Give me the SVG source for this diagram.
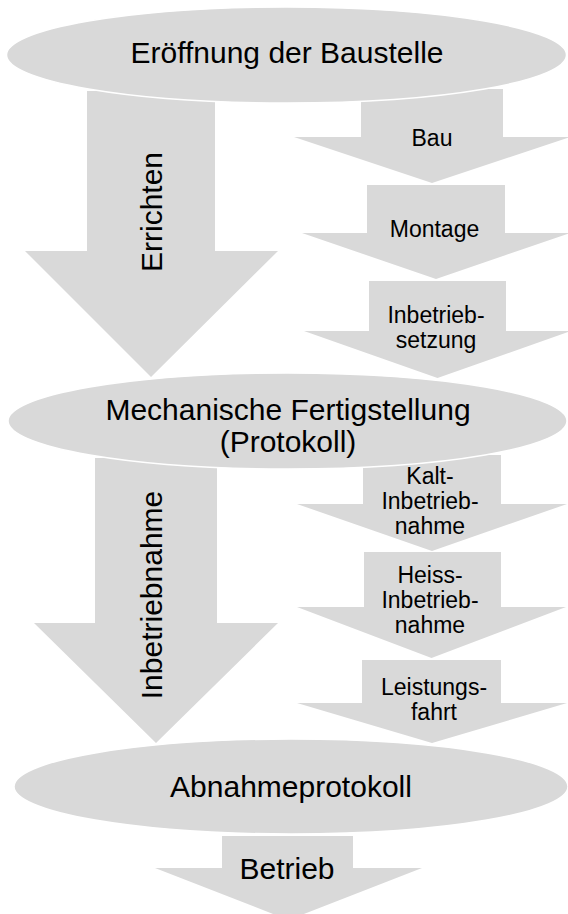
<svg xmlns="http://www.w3.org/2000/svg" width="568" height="914" viewBox="0 0 568 914">
<style>
.shape{fill:#d9d9d9;}
.ell{fill:#d9d9d9;stroke:#ffffff;stroke-width:1.5;}
text{font-family:"Liberation Sans",Arial,sans-serif;fill:#000;text-anchor:middle;}
.big{font-size:30px;}
.small{font-size:23px;}
</style>
<rect width="568" height="914" fill="#ffffff"/>
<g id="connectors">
<g id="arrow-errichten">
<polygon class="shape" points="87,91 215,91 215,251 278,251 151,377 25,251 87,251"/>
<text class="big" transform="translate(162,212) rotate(-90)">Errichten</text>
</g>
<g id="arrow-inbetriebnahme">
<polygon class="shape" points="95,458 217,458 217,623 278,623 156,743 34,623 95,623"/>
<text class="big" transform="translate(162,595) rotate(-90)">Inbetriebnahme</text>
</g>
<g id="arrow-betrieb">
<polygon class="shape" points="222,836 353,836 353,868 422,868 288.5,920 155,868 222,868"/>
<text class="big" x="287" y="879">Betrieb</text>
</g>
</g>
<g id="node-bau">
<polygon class="shape" points="361,89 503,89 503,137 570,137 432,183 294,137 361,137"/>
<text class="small" x="432" y="146">Bau</text>
</g>
<g id="node-montage">
<polygon class="shape" points="367,185 505,185 505,233 570,233 436,279 302,233 367,233"/>
<text class="small" x="434.5" y="237">Montage</text>
</g>
<g id="node-inbetriebsetzung">
<polygon class="shape" points="369,281 506,281 506,331 571,331 437.5,378 304,331 369,331"/>
<text class="small" x="436" y="323">Inbetrieb-</text>
<text class="small" x="436" y="348">setzung</text>
</g>
<g id="node-kalt">
<polygon class="shape" points="363,455 501,455 501,504 567,504 432,551 297,504 363,504"/>
<text class="small" x="430" y="484">Kalt-</text>
<text class="small" x="430" y="509">Inbetrieb-</text>
<text class="small" x="430" y="534">nahme</text>
</g>
<g id="node-heiss">
<polygon class="shape" points="364,552 501,552 501,607 566,607 431.5,658 297,607 364,607"/>
<text class="small" x="430" y="583">Heiss-</text>
<text class="small" x="430" y="608">Inbetrieb-</text>
<text class="small" x="430" y="633">nahme</text>
</g>
<g id="node-leistungsfahrt">
<polygon class="shape" points="362,660 501,660 501,703 567,703 432,743 297,703 362,703"/>
<text class="small" x="434" y="695">Leistungs-</text>
<text class="small" x="434" y="720">fahrt</text>
</g>
<g id="node-eroeffnung">
<ellipse class="ell" cx="286.5" cy="55" rx="280" ry="48"/>
<text class="big" x="287" y="63">Eröffnung der Baustelle</text>
</g>
<g id="node-mechanische">
<ellipse class="ell" cx="287.5" cy="421" rx="279.5" ry="48"/>
<text class="big" x="288" y="420">Mechanische Fertigstellung</text>
<text class="big" x="288" y="452">(Protokoll)</text>
</g>
<g id="node-abnahme">
<ellipse class="ell" cx="291" cy="786.5" rx="277" ry="47.5"/>
<text class="big" x="291" y="797">Abnahmeprotokoll</text>
</g>
</svg>
